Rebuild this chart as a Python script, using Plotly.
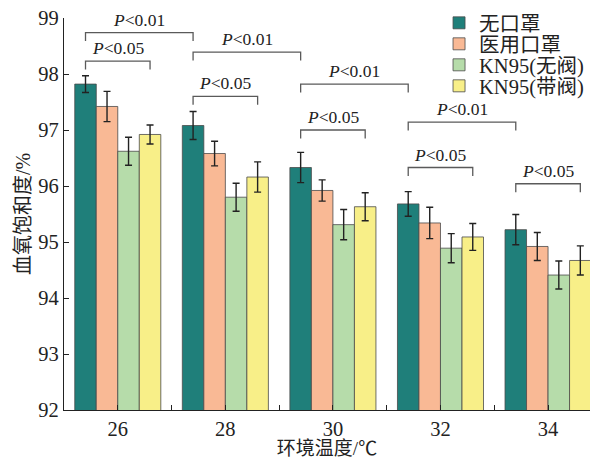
import plotly.graph_objects as go

# Ambient temperature groups (°C)
temps = ["26", "28", "30", "32", "34"]

# Series names and fill colours
series_names = ["无口罩", "医用口罩", "KN95(无阀)", "KN95(带阀)"]
series_colors = ["#1f7f7a", "#f9b995", "#b6dcaa", "#f8ef88"]

# Blood oxygen saturation means (%) per series, per temperature
spo2_none = [97.82, 97.08, 96.33, 95.68, 95.22]
spo2_medical = [97.42, 96.58, 95.92, 95.34, 94.92]
spo2_kn95_novalve = [96.62, 95.80, 95.31, 94.89, 94.41]
spo2_kn95_valve = [96.92, 96.16, 95.63, 95.09, 94.67]

# Standard deviations
sd_none = [0.15, 0.25, 0.27, 0.22, 0.27]
sd_medical = [0.27, 0.22, 0.19, 0.28, 0.25]
sd_kn95_novalve = [0.25, 0.25, 0.27, 0.26, 0.25]
sd_kn95_valve = [0.17, 0.27, 0.25, 0.24, 0.26]

values = [spo2_none, spo2_medical, spo2_kn95_novalve, spo2_kn95_valve]
errors = [sd_none, sd_medical, sd_kn95_novalve, sd_kn95_valve]

# Significance brackets: (group_a, series_a, group_b, series_b, level, label)
bracket_from_group = [0, 0, 1, 1, 2, 2, 3, 3, 4]
bracket_from_series = [0, 0, 0, 0, 0, 0, 0, 0, 0]
bracket_to_group = [1, 0, 2, 1, 3, 2, 4, 3, 4]
bracket_to_series = [0, 3, 0, 3, 0, 3, 0, 3, 3]
bracket_level = [98.74, 98.23, 98.39, 97.60, 97.82, 97.00, 97.14, 96.33, 96.04]
bracket_label = ["P<0.01", "P<0.05", "P<0.01", "P<0.05", "P<0.01",
                 "P<0.05", "P<0.01", "P<0.05", "P<0.05"]

SERIF = "Liberation Serif, 'Noto Sans CJK SC', serif"
BARGAP = 0.2
n_series = len(series_names)
bar_w = (1 - BARGAP) / n_series
drop = 0.15


def bar_x(group, series):
    return group + (series - (n_series - 1) / 2) * bar_w


legend_ids = ["legend", "legend2", "legend3", "legend4"]

fig = go.Figure()
x_idx = list(range(len(temps)))
for name, col, vals, errs, lg in zip(series_names, series_colors, values,
                                     errors, legend_ids):
    fig.add_trace(go.Bar(
        name=name, x=x_idx, y=vals, legend=lg,
        marker=dict(color=col, line=dict(color="#4a4a4a", width=0.8)),
        error_y=dict(type="data", array=errs, color="#222222",
                     thickness=1.4, width=3.5),
    ))

for ga, sa, gb, sb, lvl, lab in zip(bracket_from_group, bracket_from_series,
                                    bracket_to_group, bracket_to_series,
                                    bracket_level, bracket_label):
    xa, xb = bar_x(ga, sa), bar_x(gb, sb)
    fig.add_trace(go.Scatter(
        x=[xa, xa, xb, xb], y=[lvl - drop, lvl, lvl, lvl - drop],
        mode="lines", line=dict(color="#5a5a5a", width=1.3),
        showlegend=False, hoverinfo="skip",
    ))
    fig.add_annotation(
        x=(xa + xb) / 2, y=lvl, xref="x", yref="y",
        text="<i>P</i>&lt;" + lab.split("<")[1],
        showarrow=False, yanchor="bottom", yshift=1,
        font=dict(family=SERIF, size=17.5, color="#222222"),
    )

# One compact legend box per series, stacked at a tight row pitch
legend_style = dict(xanchor="left", yanchor="middle", x=0.713,
                    bgcolor="rgba(0,0,0,0)", itemwidth=30,
                    font=dict(family=SERIF, size=20.5, color="#222222"))
row_px = [23, 44, 65, 86]
plot_top, plot_h = 18, 392
legend_layout = {}
for lg, py in zip(legend_ids, row_px):
    legend_layout[lg] = dict(legend_style, y=1 + (plot_top - py) / plot_h)

fig.update_layout(
    width=590, height=459,
    margin=dict(l=64, r=0, t=18, b=49),
    barmode="group", bargap=BARGAP, bargroupgap=0,
    plot_bgcolor="white", paper_bgcolor="white",
    font=dict(family=SERIF, size=17, color="#222222"),
    xaxis=dict(
        range=[-0.5, 4.39], tickvals=x_idx, ticktext=temps,
        showline=True, linecolor="#222222", linewidth=1.3,
        ticks="inside", ticklen=5, tickcolor="#222222",
        minor=dict(tick0=-0.5, dtick=1, ticks="inside", ticklen=5,
                   tickcolor="#222222"),
        showgrid=False, zeroline=False,
        title=dict(text="环境温度/℃", standoff=4,
                   font=dict(family=SERIF, size=19)),
        tickfont=dict(family=SERIF, size=20.5),
    ),
    yaxis=dict(
        range=[92, 99], dtick=1,
        showline=True, linecolor="#222222", linewidth=1.3,
        ticks="inside", ticklen=5, tickcolor="#222222",
        showgrid=False, zeroline=False,
        title=dict(text="血氧饱和度/%", standoff=2,
                   font=dict(family=SERIF, size=20)),
        tickfont=dict(family=SERIF, size=20.5),
    ),
    **legend_layout,
)

fig.write_html("out.html")
